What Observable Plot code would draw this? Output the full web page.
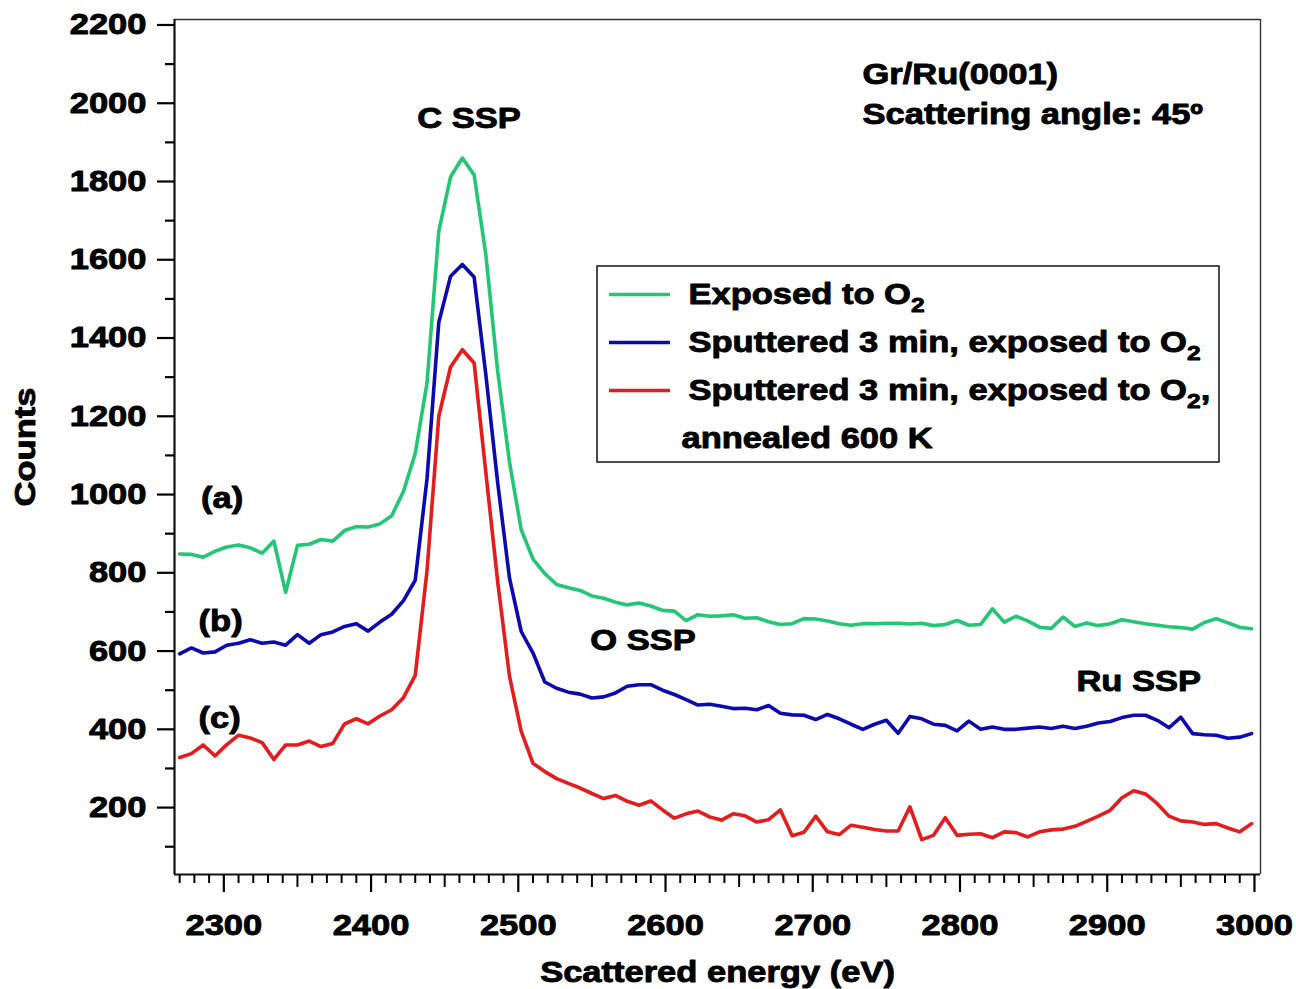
<!DOCTYPE html>
<html>
<head>
<meta charset="utf-8">
<script src="https://cdn.jsdelivr.net/npm/d3@7"></script>
<script src="https://cdn.jsdelivr.net/npm/@observablehq/plot@0.6"></script>
<style>
  body { margin: 0; background: #fff; }
</style>
</head>
<body>
<div id="chart"></div>
<script>
// Scattered-ion energy spectra of Gr/Ru(0001), 45° scattering angle.
const energy = [
  2270, 2278, 2286, 2294, 2302, 2310, 2318, 2326, 2334, 2342, 2350, 2358, 2366, 2374, 2382, 2390,
  2398, 2406, 2414, 2422, 2430, 2438, 2446, 2454, 2462, 2470, 2478, 2486, 2494, 2502, 2510, 2518,
  2526, 2534, 2542, 2550, 2558, 2566, 2574, 2582, 2590, 2598, 2606, 2614, 2622, 2630, 2638, 2646,
  2654, 2662, 2670, 2678, 2686, 2694, 2702, 2710, 2718, 2726, 2734, 2742, 2750, 2758, 2766, 2774,
  2782, 2790, 2798, 2806, 2814, 2822, 2830, 2838, 2846, 2854, 2862, 2870, 2878, 2886, 2894, 2902,
  2910, 2918, 2926, 2934, 2942, 2950, 2958, 2966, 2974, 2982, 2990, 2998
];

// (a) exposed to O2
const exposedO2 = [
  848, 847, 840, 855, 866, 871, 864, 850, 881, 750, 870, 873, 885, 881, 908, 918,
  917, 925, 946, 1008, 1105, 1285, 1673, 1812, 1860, 1817, 1612, 1315, 1083, 910, 835, 798,
  770, 762, 755, 741, 735, 725, 718, 723, 715, 704, 702, 678, 693, 689, 690, 693,
  684, 685, 675, 668, 670, 683, 682, 677, 670, 666, 670, 670, 671, 671, 669, 671,
  665, 668, 678, 666, 668, 708, 674, 689, 677, 661, 658, 687, 663, 672, 665, 670,
  680, 675, 670, 666, 662, 660, 656, 673, 683, 672, 661, 657
];

// (b) sputtered 3 min, exposed to O2
const sputteredO2 = [
  593, 608, 595, 598, 615, 620, 629, 620, 623, 615, 642, 620, 642, 649, 663, 670,
  651, 674, 694, 729, 781, 1040, 1440, 1558, 1588, 1556, 1305, 1030, 787, 650, 595, 521,
  505, 495, 490, 480, 483, 493, 510, 514, 514, 500, 489, 476, 462, 464, 459, 453,
  454, 450, 461, 441, 437, 436, 425, 438, 427, 413, 400, 413, 423, 390, 433, 427,
  413, 410, 396, 421, 400, 406, 400, 400, 403, 406, 402, 408, 402, 408, 416, 420,
  430, 436, 436, 423, 404, 431, 389, 386, 385, 377, 380, 389
];

// (c) sputtered 3 min, exposed to O2, annealed 600 K
const sputteredAnnealed = [
  328, 338, 360, 332, 361, 385, 378, 366, 323, 360, 360, 370, 356, 364, 414, 427,
  414, 434, 450, 481, 538, 805, 1200, 1326, 1370, 1336, 1055, 777, 536, 395, 313, 292,
  274, 262, 250, 236, 223, 231, 216, 206, 217, 194, 173, 184, 191, 176, 168, 184,
  179, 163, 169, 194, 128, 137, 178, 138, 131, 155, 150, 144, 140, 140, 202, 118,
  129, 174, 129, 132, 133, 123, 138, 136, 125, 138, 143, 145, 152, 165, 178, 193,
  225, 243, 235, 210, 178, 166, 163, 157, 159, 148, 138, 159
];

const seriesNames = [
  "Exposed to O₂",
  "Sputtered 3 min, exposed to O₂",
  "Sputtered 3 min, exposed to O₂,"
];
const seriesColors = ["#22c673", "#0a0ab0", "#e41c1c"];
const seriesValues = [exposedO2, sputteredO2, sputteredAnnealed];

const xTickLabels = [2300, 2400, 2500, 2600, 2700, 2800, 2900, 3000];
const yTickLabels = [200, 400, 600, 800, 1000, 1200, 1400, 1600, 1800, 2000, 2200];

// long table for the line mark
const rows = seriesNames.flatMap((name, s) =>
  energy.map((e, i) => ({energy: e, counts: seriesValues[s][i], series: name}))
);

// layout
const W = 1296, H = 989;
const M = {left: 174, right: 36, top: 19, bottom: 115};
const xDomain = [2266.5, 3004.1];
const yDomain = [29, 2214];
const FONT = "'Liberation Sans', Arial, Helvetica, sans-serif";
const FS = 29.5;        // font size
const STRETCH = 1.17;   // wide lettering
const LW = 3.6;         // spectrum line width

// pixel helpers for items placed relative to the frame
const xPx = d3.scaleLinear(xDomain, [M.left, W - M.right]);
const yPx = d3.scaleLinear(yDomain, [H - M.bottom, M.top]);
const px = (x) => xPx.invert(x);
const py = (y) => yPx.invert(y);

// tick sets
const xMinor = d3.range(2270, 3001, 10).filter((d) => d % 50 !== 0);
const xMid = d3.range(2350, 3000, 100);
const yMinor = d3.range(100, 2200, 200);

const legendY = [294, 342, 390];

const label = (text, x, y, opts = {}) =>
  Plot.text([text], {x: () => x, y: () => y, text: (d) => d, fontSize: FS, fontWeight: "bold",
    fill: "#000", lineAnchor: "middle", ...opts});

const chart = Plot.plot({
  width: W,
  height: H,
  marginLeft: M.left,
  marginRight: M.right,
  marginTop: M.top,
  marginBottom: M.bottom,
  style: {fontFamily: FONT, fontSize: `${FS}px`, fontWeight: "bold", background: "#fff", color: "#000"},
  x: {domain: xDomain},
  y: {domain: yDomain},
  color: {domain: seriesNames, range: seriesColors},
  marks: [
    // legend box (drawn first so spectra are never hidden)
    Plot.rect([0], {x1: px(597), x2: px(1219), y1: py(462), y2: py(266),
      fill: "#fff", stroke: "#222", strokeWidth: 1.6}),

    // spectra
    Plot.line(rows, {x: "energy", y: "counts", z: "series", stroke: "series",
      strokeWidth: LW, strokeLinejoin: "round", curve: "linear"}),

    // frame
    Plot.ruleY([yDomain[1]], {stroke: "#333", strokeWidth: 1.4}),
    Plot.ruleX([xDomain[1]], {stroke: "#333", strokeWidth: 1.4}),
    Plot.ruleX([xDomain[0]], {stroke: "#111", strokeWidth: 2.2}),
    Plot.ruleY([yDomain[0]], {stroke: "#111", strokeWidth: 2.2}),

    // y axis
    Plot.axisY({ticks: yTickLabels, tickSize: 17, tickPadding: 11, tickFormat: "d",
      label: null, strokeWidth: 2.2, fontSize: FS, fontWeight: "bold"}),
    Plot.axisY({ticks: yMinor, tickSize: 9, tickFormat: () => "", label: null, strokeWidth: 2.2}),

    // x axis
    Plot.axisX({ticks: xTickLabels, tickSize: 18, tickPadding: 22, tickFormat: "d",
      label: null, strokeWidth: 2.2, fontSize: FS, fontWeight: "bold"}),
    Plot.axisX({ticks: xMid, tickSize: 13, tickFormat: () => "", label: null, strokeWidth: 2}),
    Plot.axisX({ticks: xMinor, tickSize: 9, tickFormat: () => "", label: null, strokeWidth: 2}),

    // axis titles
    Plot.text(["Counts"], {frameAnchor: "left", rotate: -90, dx: -149, textAnchor: "middle",
      lineAnchor: "middle", fontSize: FS, fontWeight: "bold", fill: "#000"}),
    Plot.text(["Scattered energy (eV)"], {frameAnchor: "bottom", dy: 98, textAnchor: "middle",
      lineAnchor: "middle", fontSize: FS, fontWeight: "bold", fill: "#000"}),

    // peak and curve annotations
    label("C SSP", 2466.6, 1961),
    label("O SSP", 2584.7, 627),
    label("Ru SSP", 2921.4, 523),
    label("(a)", 2298.9, 990),
    label("(b)", 2297.8, 676),
    label("(c)", 2297.1, 428),
    label("Gr/Ru(0001)", px(862), py(74), {textAnchor: "start"}),
    label("Scattering angle: 45º", px(862), py(114), {textAnchor: "start"}),

    // legend entries
    Plot.ruleY(seriesNames, {y: (d, i) => py(legendY[i]), x1: px(609), x2: px(670),
      stroke: (d) => d, strokeWidth: LW}),
    Plot.text(seriesNames, {x: px(688), y: (d, i) => py(legendY[i]), text: (d) => d,
      textAnchor: "start", lineAnchor: "middle", fontSize: FS, fontWeight: "bold", fill: "#000"}),
    label("annealed 600 K", px(681), py(438), {textAnchor: "start"})
  ]
});

// chemical subscripts: render "₂" as a lowered, smaller 2
d3.select(chart).selectAll("text").each(function () {
  const t = this.textContent;
  if (!t.includes("₂") || this.querySelector("tspan")) return;
  const parts = t.split("₂");
  const sel = d3.select(this);
  sel.text(null);
  parts.forEach((p, i) => {
    if (i > 0) sel.append("tspan").attr("dy", 8).attr("font-size", 21).text("2");
    if (p) sel.append("tspan").attr("dy", i > 0 ? -8 : null).text(p);
  });
});

// heavy, wide lettering: stretch each text around its own anchor and thicken strokes
chart.querySelectorAll("text").forEach((t) => {
  const x = +(t.getAttribute("x") || 0);
  const tr = t.getAttribute("transform") || "";
  t.setAttribute("x", x / STRETCH);
  t.setAttribute("transform", `${tr} scale(${STRETCH},1)`.trim());
  t.setAttribute("stroke", "#000");
  t.setAttribute("stroke-width", 0.9);
  t.setAttribute("stroke-linejoin", "round");
});

document.getElementById("chart").append(chart);
</script>
</body>
</html>
